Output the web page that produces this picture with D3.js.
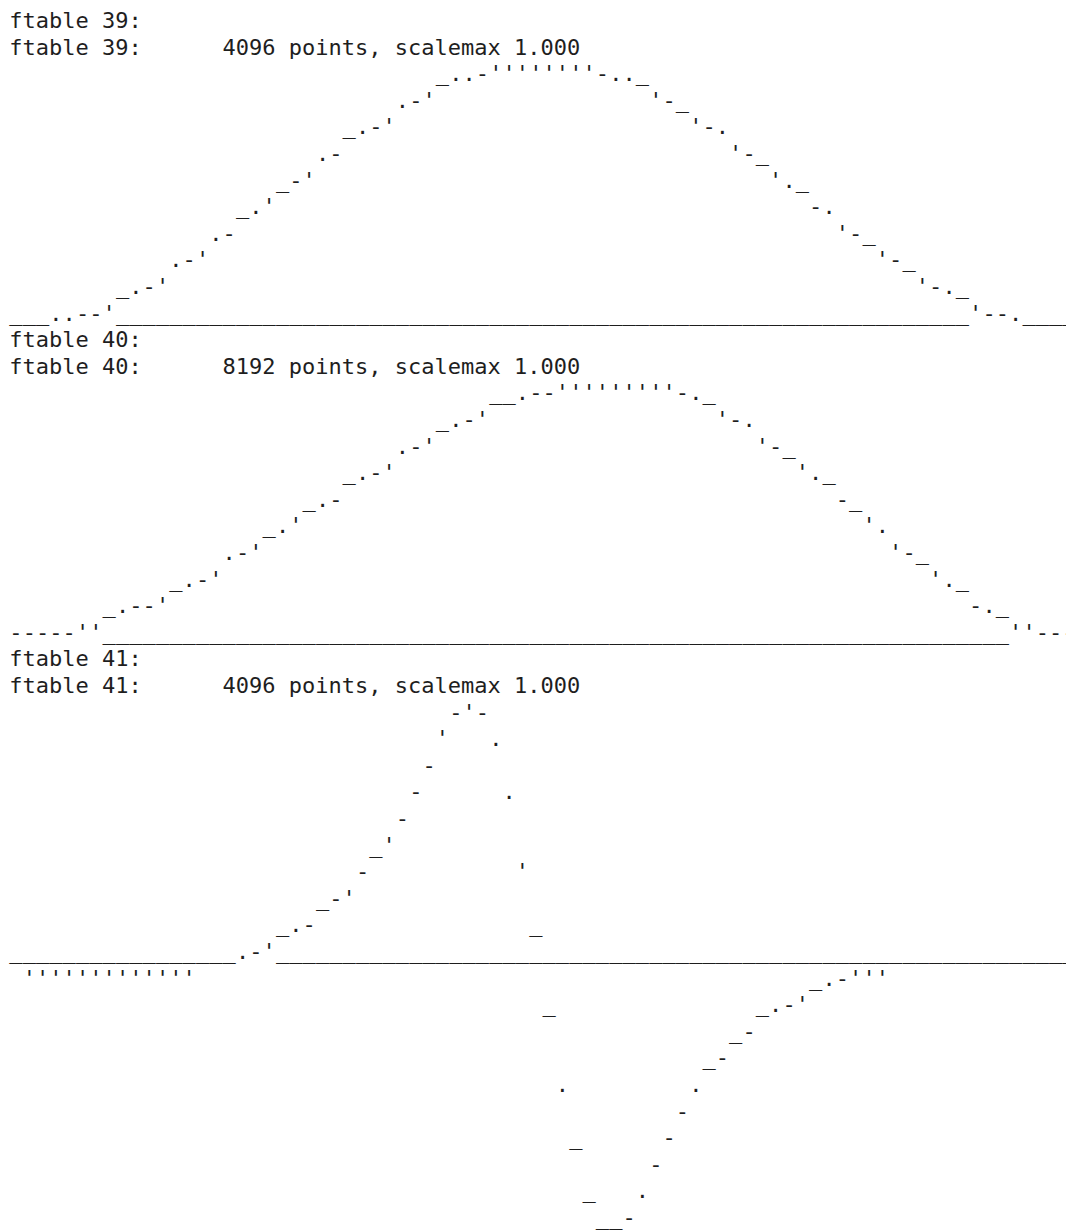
<!DOCTYPE html>
<html>
<head>
<meta charset="utf-8">
<script src="https://cdn.jsdelivr.net/npm/d3@7"></script>
<style>
  html, body { margin: 0; padding: 0; background: #ffffff; }
  svg { display: block; }
  text { font-family: "DejaVu Sans Mono", monospace; font-size: 22px; fill: #1e1e1e; }
</style>
</head>
<body>
<svg id="chart" width="1066" height="1231"></svg>
<script>
// ---- data ----
const tableIds = [39, 40, 41];
const tablePoints = [4096, 8192, 4096];
const tableScaleMax = ["1.000", "1.000", "1.000"];
// lowest text row used by each table (0 = axis row; bipolar tables go below it)
const tableBottomRow = [0, 0, -10];

// quantised level per display column (80 columns), 4 sub-levels per text row
const levels39 = [
  0, 0, 0, 1, 1, 2, 2, 3, 4, 5, 6, 7, 9, 10, 11, 13, 14, 16, 17, 19,
  20, 22, 23, 25, 26, 28, 29, 30, 31, 33, 34, 35, 36, 37, 37, 38, 39, 39, 39, 39,
  39, 39, 39, 39, 38, 37, 37, 36, 35, 34, 32, 31, 30, 29, 27, 26, 24, 23, 21, 20,
  18, 17, 15, 14, 12, 11, 10, 8, 7, 6, 5, 4, 3, 2, 2, 1, 0, 0, 0, 0
];
const levels40 = [
  2, 2, 2, 2, 2, 3, 3, 4, 5, 6, 6, 7, 8, 9, 10, 11, 13, 14, 15, 16,
  17, 19, 20, 21, 22, 24, 25, 26, 27, 29, 30, 31, 32, 33, 34, 35, 36, 36, 37, 38,
  38, 39, 39, 39, 39, 39, 39, 39, 39, 39, 38, 37, 36, 35, 34, 33, 31, 30, 28, 27,
  25, 24, 22, 20, 19, 17, 15, 14, 12, 11, 9, 8, 6, 5, 4, 3, 3, 2, 2, 2
];
const levels41 = [
  0, -1, -1, -1, -1, -1, -1, -1, -1, -1, -1, -1, -1, -1, 0, 0, 0, 1, 2, 3,
  4, 5, 6, 8, 10, 11, 14, 16, 19, 22, 26, 30, 35, 38, 39, 38, 33, 25, 15, 4,
  -8, -19, -28, -36, -40, -40, -38, -35, -30, -26, -22, -19, -16, -14, -12, -10, -8, -7, -6, -5,
  -4, -3, -2, -1, -1, -1, 0, 0, 0, 0, 0, 0, 0, 0, 0, 0, 0, 0, 0, 0
];
const tableLevels = [levels39, levels40, levels41];
const glyphs = ["_", ".", "-", "'"];
const axisGlyph = "_";
const topRow = 9;
const labelTabColumn = 16;

// ---- layout ----
const nCols = 80;
const nLines = 45;
const x = d3.scaleLinear().domain([0, nCols]).range([9.3, 9.3 + nCols * 13.33]);
const y = d3.scaleLinear().domain([0, nLines]).range([28, 28 + nLines * 26.6]);

const svg = d3.select("#chart");

let startLine = 0;
tableIds.forEach((id, t) => {
  const g = svg.append("g").attr("class", "ftable-" + id);
  const levels = tableLevels[t];
  const firstRowLine = startLine + 2;
  const lineOfRow = r => firstRowLine + (topRow - r);

  // header lines
  const labels = [
    { col: 0, line: startLine, text: "ftable " + id + ":" },
    { col: 0, line: startLine + 1, text: "ftable " + id + ":" },
    { col: labelTabColumn, line: startLine + 1,
      text: tablePoints[t] + " points, scalemax " + tableScaleMax[t] }
  ];
  g.selectAll("text.label").data(labels).join("text")
    .attr("class", "label")
    .attr("x", d => x(d.col))
    .attr("y", d => y(d.line))
    .text(d => d.text);

  // data glyphs
  const pts = levels.map((v, i) => {
    const row = Math.floor(v / 4);
    return { col: i, row: row, ch: glyphs[v - 4 * row] };
  });

  // axis underscores where the curve is not on the axis row
  const axisCols = pts.filter(p => p.row !== 0).map(p => p.col);
  g.selectAll("text.axis").data(axisCols).join("text")
    .attr("class", "axis")
    .attr("x", c => x(c))
    .attr("y", y(lineOfRow(0)))
    .text(axisGlyph);

  g.selectAll("text.pt").data(pts).join("text")
    .attr("class", "pt")
    .attr("x", d => x(d.col))
    .attr("y", d => y(lineOfRow(d.row)))
    .text(d => d.ch);

  startLine = firstRowLine + (topRow - tableBottomRow[t]) + 1;
});
</script>
</body>
</html>
